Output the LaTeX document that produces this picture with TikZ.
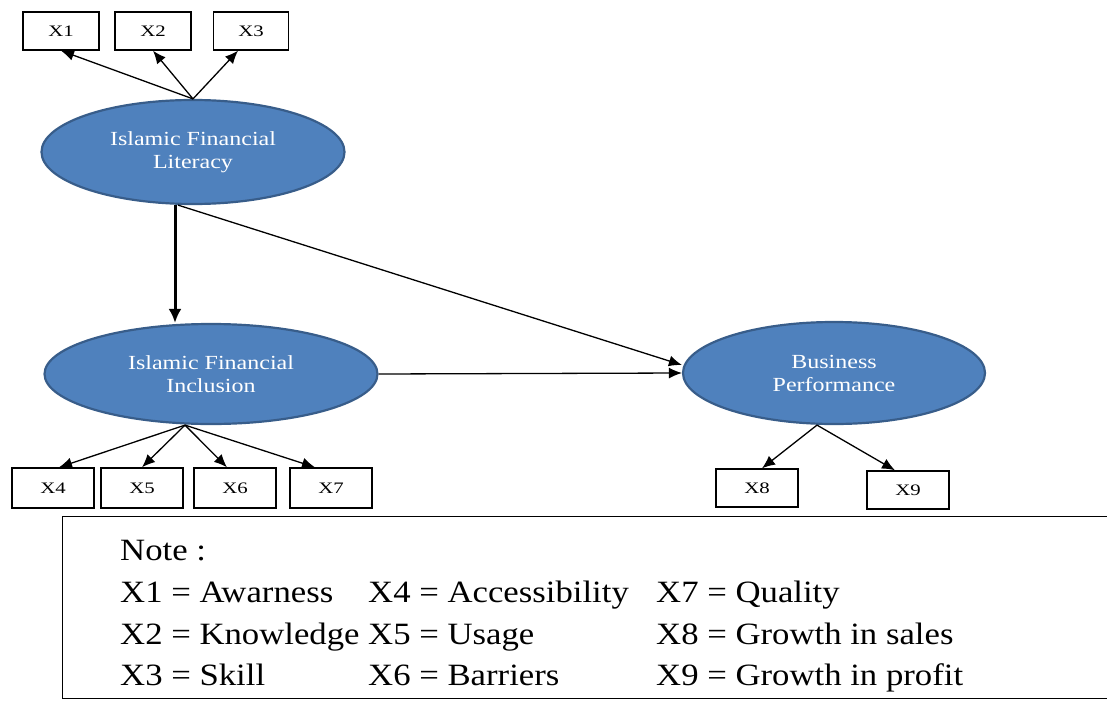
\documentclass[tikz,border=0pt]{standalone}
\usepackage{fontspec}
\setmainfont{Liberation Serif}
\newfontfamily\notefont[FakeStretch=1.12]{Liberation Serif}
\newfontfamily\latentfont[FakeStretch=1.2]{Liberation Serif}
\newfontfamily\itemfont[FakeStretch=1.3]{Liberation Serif}
\usepackage{xcolor}
\usepackage{tikz}
\usetikzlibrary{positioning,shapes.geometric,arrows.meta}
\definecolor{latentblue}{HTML}{4F81BD}
\definecolor{latentedge}{HTML}{385D8A}
\tikzset{
    latent/.style={
        ellipse,
        draw=latentedge,
        line width=2.2pt,
        fill=latentblue,
        text=white,
        align=center,
        inner sep=0pt,
        font=\latentfont\fontsize{20}{23}\selectfont
    },
    indicator/.style={
        rectangle,
        draw=black,
        line width=1.4pt,
        inner sep=0pt,
        font=\itemfont\fontsize{16}{16}\selectfont
    },
    arrow/.style={
        -{Latex[length=13pt,width=11pt]},
        line width=1.3pt
    },
    thickarrow/.style={
        -{Latex[length=14pt,width=13pt]},
        line width=3pt
    },
    notetext/.style={
        anchor=base west,
        inner sep=0pt,
        font=\notefont\fontsize{31}{36}\selectfont
    }
}

\begin{document}
\begin{tikzpicture}[x=1pt,y=-1pt]
          \useasboundingbox (0,0) rectangle (1107,701);
          % latent variables
          \node (ifl) [latent, minimum width=303pt, minimum height=104pt] at (193,152) {Islamic Financial\\Literacy};
          \node (ifi) [latent, minimum width=333pt, minimum height=100pt] at (211,374) {Islamic Financial\\Inclusion};
          \node (bp) [latent, minimum width=302pt, minimum height=102pt] at (834,373) {Business\\Performance};
          % indicators
          \node (x1) [indicator, minimum width=76pt, minimum height=38pt] at (61,31) {X1};
          \node (x2) [indicator, minimum width=76pt, minimum height=38pt] at (153,31) {X2};
          \node (x3) [indicator, minimum width=75pt, minimum height=38pt] at (251,31) {X3};
          \node (x4) [indicator, minimum width=82pt, minimum height=40pt] at (53,488) {X4};
          \node (x5) [indicator, minimum width=82pt, minimum height=40pt] at (142,488) {X5};
          \node (x6) [indicator, minimum width=82pt, minimum height=40pt] at (235,488) {X6};
          \node (x7) [indicator, minimum width=82pt, minimum height=40pt] at (331,488) {X7};
          \node (x8) [indicator, minimum width=82pt, minimum height=38pt] at (757,488) {X8};
          \node (x9) [indicator, minimum width=82pt, minimum height=38pt] at (908,490) {X9};
          % paths
          \draw [arrow] (ifl.north) -- (x1.south);
          \draw [arrow] (ifl.north) -- (x2.south);
          \draw [arrow] (ifl.north) -- ([xshift=-13pt]x3.south);
          \draw [thickarrow] ([xshift=-18pt]ifl.south) -- ([xshift=-18pt]ifl.south |- ifi.north);
          \draw [arrow] ([xshift=-15pt]ifl.south) -- ([yshift=8pt]bp.west);
          \draw [arrow] (ifi.east) -- (bp.west);
          \draw [arrow] ([xshift=-26pt]ifi.south) -- ([xshift=6pt]x4.north);
          \draw [arrow] ([xshift=-26pt]ifi.south) -- (x5.north);
          \draw [arrow] ([xshift=-26pt]ifi.south) -- ([xshift=-8pt]x6.north);
          \draw [arrow] ([xshift=-26pt]ifi.south) -- ([xshift=-16pt]x7.north);
          \draw [arrow] ([xshift=-17pt]bp.south) -- ([xshift=5pt]x8.north);
          \draw [arrow] ([xshift=-17pt]bp.south) -- ([xshift=-13pt]x9.north);
          % note
          \node (note) [draw, line width=1.3pt, inner sep=0pt, anchor=north west, minimum width=1080pt, minimum height=182pt] at (62,516) {};
          \node (notehead) [notetext] at (120,560) {Note :};
          \node (n1) [notetext] at (120,602) {X1 = Awarness};
          \node (n2) [notetext] at (120,644) {X2 = Knowledge};
          \node (n3) [notetext] at (120,685) {X3 = Skill};
          \node (n4) [notetext] at (368,602) {X4 = Accessibility};
          \node (n5) [notetext] at (368,644) {X5 = Usage};
          \node (n6) [notetext] at (368,685) {X6 = Barriers};
          \node (n7) [notetext] at (656,602) {X7 = Quality};
          \node (n8) [notetext] at (656,644) {X8 = Growth in sales};
          \node (n9) [notetext] at (656,685) {X9 = Growth in profit};
        \end{tikzpicture}
\end{document}
